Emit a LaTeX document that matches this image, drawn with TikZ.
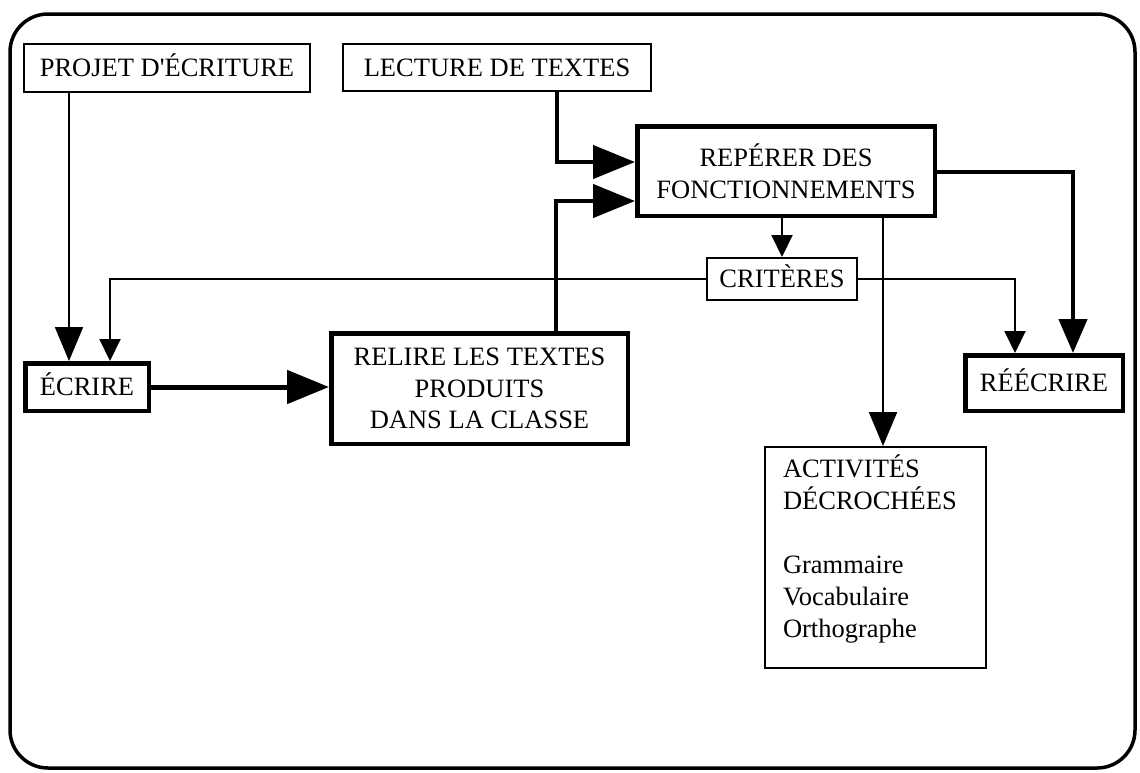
\documentclass[tikz,border=0pt]{standalone}
\usepackage{fontspec}
\setmainfont{Liberation Serif}
\usetikzlibrary{arrows.meta,calc}
\begin{document}
\begin{tikzpicture}[x=1pt,y=-1pt,
  box/.style={draw, line width=2pt, inner sep=0pt, align=center,
    font=\fontsize{26.5pt}{31.5pt}\selectfont},
  oneline/.style={text height=17.5pt, text depth=0pt},
  boxthick/.style={box, line width=4.5pt},
  ln/.style={line width=2pt},
  lnthick/.style={line width=4.5pt},
  tipbig/.style={-{Triangle[length=42pt,width=33pt]}},
  tipdown/.style={-{Triangle[length=34pt,width=28pt]}},
  tipsmall/.style={-{Triangle[length=22pt,width=21pt]}}]
\useasboundingbox (0,0) rectangle (1140,772);
% outer frame
\draw[line width=3.5pt, rounded corners=38pt] (10,14) rectangle (1135,768);
% boxes
\node[box, oneline, minimum width=286pt, minimum height=48pt] (projet) at (167,68) {PROJET D\textquotesingle{}ÉCRITURE};
\node[box, oneline, minimum width=308pt, minimum height=47pt] (lecture) at (497,67.5) {LECTURE DE TEXTES};
\node[boxthick, minimum width=297.5pt, minimum height=89.5pt] (reperer) at (786,171) {REPÉRER DES\\FONCTIONNEMENTS};
\node[box, oneline, minimum width=150pt, minimum height=42pt] (criteres) at (782,279) {CRITÈRES};
\node[boxthick, oneline, minimum width=123.5pt, minimum height=47.5pt] (ecrire) at (87,387) {ÉCRIRE};
\node[boxthick, minimum width=296.5pt, minimum height=110.5pt] (relire) at (479.5,388.5) {RELIRE LES TEXTES\\PRODUITS\\DANS LA CLASSE};
\node[boxthick, oneline, minimum width=157.5pt, minimum height=55.5pt] (reecrire) at (1044,383) {RÉÉCRIRE};
\node[box, minimum width=221pt, minimum height=221pt] (activites) at (875.5,557.5)
  {\parbox[c][206pt][t]{185pt}{\fontsize{26.5pt}{32pt}\selectfont\raggedright
   ACTIVITÉS\\DÉCROCHÉES\\[32pt]Grammaire\\Vocabulaire\\Orthographe}};
% helper coordinates
\coordinate (cP) at (69,0);
\coordinate (cC) at (110,0);
\coordinate (cL) at (557,0);
\coordinate (cY1) at (0,162);
\coordinate (cR) at (556,0);
\coordinate (cY2) at (0,201);
\coordinate (cA) at (883,0);
\coordinate (cRR) at (1015,0);
\coordinate (cRT) at (1073,0);
\coordinate (cRY) at (0,172);
% connectors
\draw[ln, tipdown] (projet.south -| cP) -- (ecrire.north -| cP);
\draw[ln, tipsmall] (criteres.west) -| (ecrire.north -| cC);
\draw[lnthick, tipbig] (lecture.south -| cL) |- (reperer.west |- cY1);
\draw[lnthick, tipbig] (relire.north -| cR) |- (reperer.west |- cY2);
\draw[line width=5pt, tipbig] (ecrire.east) -- (ecrire.east -| relire.west);
\draw[ln, tipsmall] (reperer.south -| criteres.north) -- (criteres.north);
\draw[ln, tipsmall] (criteres.east) -| (reecrire.north -| cRR);
\draw[lnthick, tipdown] (reperer.east |- cRY) -| (reecrire.north -| cRT);
\draw[ln, tipdown] (reperer.south -| cA) -- (activites.north -| cA);
\end{tikzpicture}
\end{document}
